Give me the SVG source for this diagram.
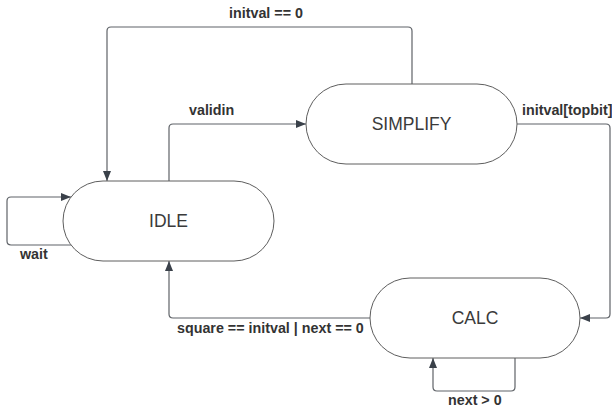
<svg xmlns="http://www.w3.org/2000/svg" width="612" height="410" viewBox="0 0 612 410">
  <style>
    .node { fill: #ffffff; stroke: #5e5e5e; stroke-width: 1; }
    .node-text { font-family: "Liberation Sans", Arial, sans-serif; font-size: 17.5px; fill: #3a3a3a; text-anchor: middle; }
    .edge { fill: none; stroke: #5f6368; stroke-width: 1.2; stroke-linejoin: round; }
    .label { font-family: "Liberation Sans", Arial, sans-serif; font-size: 14.3px; font-weight: bold; fill: #333333; }
  </style>
  <defs>
    <marker id="arrow" viewBox="0 0 10 10" refX="10" refY="5" markerWidth="10" markerHeight="10" markerUnits="userSpaceOnUse" orient="auto">
      <path d="M0,1 L10,5 L0,9 Z" fill="#3a414a"/>
    </marker>
  </defs>

  <rect width="612" height="410" fill="#ffffff"/>

  <g id="connectors">
    <!-- SIMPLIFY -> IDLE (initval == 0) -->
    <path class="edge" d="M412,84 V31 Q412,27 408,27 H111 Q107,27 107,31 V181" marker-end="url(#arrow)"/>
    <!-- IDLE -> SIMPLIFY (validin) -->
    <path class="edge" d="M169,181 V128 Q169,124 173,124 H306" marker-end="url(#arrow)"/>
    <!-- SIMPLIFY -> CALC (initval[topbit]) -->
    <path class="edge" d="M517,124 H606 Q610,124 610,128 V314 Q610,318 606,318 H580" marker-end="url(#arrow)"/>
    <!-- CALC -> IDLE (square == initval | next == 0) -->
    <path class="edge" d="M370,318 H173 Q169,318 169,314 V261" marker-end="url(#arrow)"/>
    <!-- IDLE self loop (wait) -->
    <path class="edge" d="M71,245 H11 Q7,245 7,241 V201 Q7,197 11,197 H71" marker-end="url(#arrow)"/>
    <!-- CALC self loop (next > 0) -->
    <path class="edge" d="M515,358 V387 Q515,391 511,391 H437 Q433,391 433,387 V358" marker-end="url(#arrow)"/>

    <text class="label" x="266" y="18" text-anchor="middle">initval == 0</text>
    <text class="label" x="189" y="115">validin</text>
    <text class="label" x="522" y="115">initval[topbit]</text>
    <text class="label" x="177" y="333">square == initval | next == 0</text>
    <text class="label" x="20" y="259">wait</text>
    <text class="label" x="448" y="405">next &gt; 0</text>
  </g>

  <g id="idle">
    <rect class="node" x="63" y="181" width="211" height="80" rx="40" ry="40"/>
    <text class="node-text" x="168.5" y="227">IDLE</text>
  </g>

  <g id="simplify">
    <rect class="node" x="306" y="84" width="211" height="80" rx="40" ry="40"/>
    <text class="node-text" x="411.5" y="130">SIMPLIFY</text>
  </g>

  <g id="calc">
    <rect class="node" x="370" y="278" width="210" height="80" rx="40" ry="40"/>
    <text class="node-text" x="475" y="324">CALC</text>
  </g>
</svg>
